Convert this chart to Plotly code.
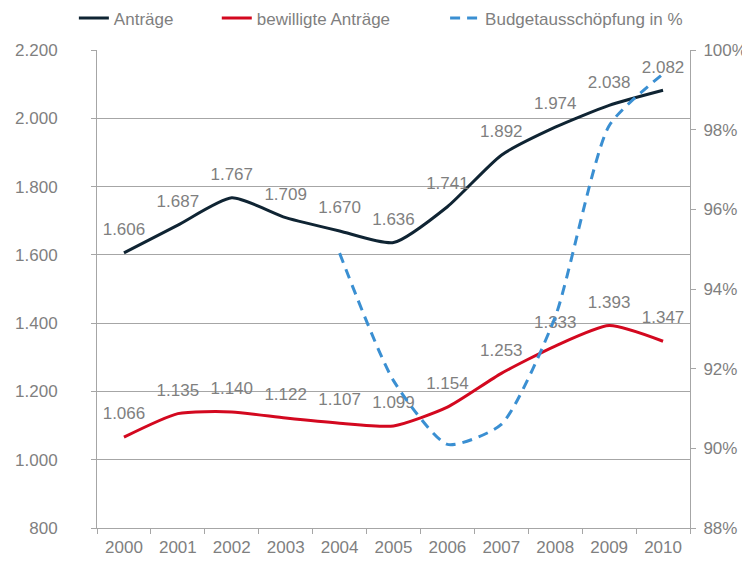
import plotly.graph_objects as go

years = [str(y) for y in range(2000, 2011)]
antraege = [1606, 1687, 1767, 1709, 1670, 1636, 1741, 1892, 1974, 2038, 2082]
bewilligt = [1066, 1135, 1140, 1122, 1107, 1099, 1154, 1253, 1333, 1393, 1347]
budget_pct = [None, None, None, None, 94.9, 91.7, 90.1, 90.6, 93.3, 98.1, 99.4]

grey = "#7f7f7f"
axis_grey = "#a6a6a6"
font = "Liberation Sans, Arial, sans-serif"

fig = go.Figure()

# invisible markers only push the value labels a bit above the line
fig.add_trace(go.Scatter(
    x=years, y=antraege, name="Anträge", legend="legend",
    mode="lines+markers+text",
    line=dict(color="#0f2433", width=3, shape="spline", smoothing=0.6),
    marker=dict(size=20, color="rgba(0,0,0,0)"),
    texttemplate="%{y:,}", textposition="top center",
    textfont=dict(color=grey, size=17, family=font),
))
fig.add_trace(go.Scatter(
    x=years, y=bewilligt, name="bewilligte Anträge", legend="legend2",
    mode="lines+markers+text",
    line=dict(color="#d3081f", width=3, shape="spline", smoothing=0.6),
    marker=dict(size=20, color="rgba(0,0,0,0)"),
    texttemplate="%{y:,}", textposition="top center",
    textfont=dict(color=grey, size=17, family=font),
))
fig.add_trace(go.Scatter(
    x=years, y=budget_pct, name="Budgetausschöpfung in %", yaxis="y2", legend="legend3",
    mode="lines",
    line=dict(color="#3a8fd2", width=3, dash="10px,7px", shape="spline", smoothing=0.6),
))

leg = dict(orientation="h", xanchor="left", y=1.066, yanchor="middle",
           font=dict(size=17, color=grey, family=font), bgcolor="rgba(0,0,0,0)")

# page body has an 8px margin, so the figure is a bit smaller than the window
fig.update_layout(
    width=742, height=556,
    margin=dict(l=89, r=60, t=42, b=36, autoexpand=False),
    paper_bgcolor="white", plot_bgcolor="white",
    separators=",.",
    font=dict(family=font, size=17, color=grey),
    showlegend=True,
    legend=dict(leg, x=-0.039),
    legend2=dict(leg, x=0.202),
    legend3=dict(leg, x=0.587),
    xaxis=dict(type="category", range=[-0.5, 10.5], showgrid=False,
               showline=True, linecolor=axis_grey, linewidth=1,
               ticks="outside", tickson="boundaries", tickcolor=axis_grey, ticklen=5,
               ticklabelstandoff=4, tickfont=dict(size=17, color=grey)),
    yaxis=dict(range=[800, 2200], dtick=200, tickformat=",d",
               showgrid=True, gridcolor=axis_grey, gridwidth=1,
               showline=True, linecolor=axis_grey, ticks="outside", tickcolor=axis_grey,
               ticklen=5, ticklabelstandoff=30, tickfont=dict(size=17, color=grey),
               zeroline=False),
    yaxis2=dict(range=[88, 100], dtick=2, ticksuffix="%", overlaying="y", side="right",
                showgrid=False, showline=True, linecolor=axis_grey, ticks="outside",
                tickcolor=axis_grey, ticklen=5, ticklabelstandoff=4,
                tickfont=dict(size=17, color=grey), zeroline=False),
)

fig.write_html("out.html")
